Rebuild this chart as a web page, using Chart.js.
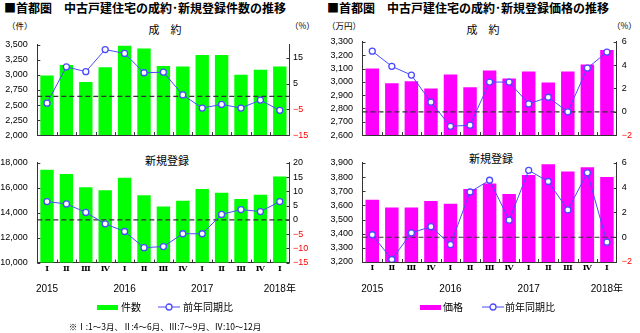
<!DOCTYPE html>
<html>
<head>
<meta charset="utf-8">
<script src="https://cdn.jsdelivr.net/npm/chart.js@4.4.1/dist/chart.umd.min.js"></script>
<style>
    body { margin: 0; width: 640px; height: 333px; position: relative; background: #fff; overflow: hidden; font-family: 'Noto Sans CJK JP', sans-serif; color: #000; }
    canvas { position: absolute; }
    .t { position: absolute; white-space: nowrap; line-height: 1; }
    .title { font-size: 12px; font-weight: bold; top: 2px; }
    .sub { font-size: 11px; transform: translateX(-50%); }
    .unit { font-size: 8.5px; top: 20.5px; }
    .leg { font-size: 10px; top: 302px; }
    .note { font-size: 8.5px; top: 321.5px; left: 165px; transform: translateX(-50%); }
    .sw { position: absolute; top: 304.5px; width: 21px; height: 5px; }
    svg { position: absolute; top: 303px; }
</style>
</head>
<body>
<div class="t title" style="left:4px">■首都圏　中古戸建住宅の成約･新規登録件数の推移</div>
<div class="t title" style="left:327px">■首都圏　中古戸建住宅の成約･新規登録価格の推移</div>

<div class="t sub" style="left:165px;top:23.5px">成　約</div>
<div class="t sub" style="left:167px;top:155px">新規登録</div>
<div class="t sub" style="left:483px;top:23.5px">成　約</div>
<div class="t sub" style="left:491px;top:152.5px">新規登録</div>

<div class="t unit" style="left:7px">（件）</div>
<div class="t unit" style="left:290px">（%）</div>
<div class="t unit" style="left:327px">（万円）</div>
<div class="t unit" style="left:612px">（%）</div>

<canvas id="countContract" width="320" height="120" style="left:0;top:30px"></canvas>
<canvas id="countListing" width="320" height="150" style="left:0;top:148px"></canvas>
<canvas id="priceContract" width="320" height="123" style="left:320px;top:27px"></canvas>
<canvas id="priceListing" width="320" height="150" style="left:320px;top:148px"></canvas>

<!-- legends -->
<div class="sw" style="left:97px;background:#00ff00"></div>
<div class="t leg" style="left:121px">件数</div>
<svg width="24" height="8" style="left:157px"><line x1="1" y1="4" x2="23" y2="4" stroke="#4a4aff" stroke-width="1"/><circle cx="12" cy="4" r="3" fill="#fff" stroke="#4a4aff" stroke-width="1.3"/></svg>
<div class="t leg" style="left:183px">前年同期比</div>

<div class="sw" style="left:420px;background:#ff00ff"></div>
<div class="t leg" style="left:443px">価格</div>
<svg width="24" height="8" style="left:481px"><line x1="1" y1="4" x2="23" y2="4" stroke="#4a4aff" stroke-width="1"/><circle cx="12" cy="4" r="3" fill="#fff" stroke="#4a4aff" stroke-width="1.3"/></svg>
<div class="t leg" style="left:505px">前年同期比</div>

<div class="t note">※Ⅰ:1～3月、Ⅱ:4～6月、Ⅲ:7～9月、Ⅳ:10～12月</div>

<script>
// Quarter / year labels
const quarters = ['Ⅰ', 'Ⅱ', 'Ⅲ', 'Ⅳ', 'Ⅰ', 'Ⅱ', 'Ⅲ', 'Ⅳ', 'Ⅰ', 'Ⅱ', 'Ⅲ', 'Ⅳ', 'Ⅰ'];
const years = ['2015', '', '', '', '2016', '', '', '', '2017', '', '', '', '2018年'];

// 件数 (counts) and YoY %
const contractCount = [2990, 3165, 2885, 3130, 3485, 3440, 3150, 3140, 3330, 3330, 3005, 3085, 3140];
const contractCountYoY = [-2.6, 11.5, 9.6, 18.2, 16.7, 9.2, 9.4, 0.6, -4.5, -3.1, -4.5, -1.4, -5.4];
const listingCount = [17450, 17100, 16050, 15800, 16800, 15400, 14500, 14950, 15900, 15600, 15100, 15450, 16900];
const listingCountYoY = [6.4, 5.6, 2.6, -1.4, -4.1, -9.8, -9.4, -4.9, -4.9, 1.9, 3.6, 2.9, 6.4];

// 価格 (prices, 万円) and YoY %
const contractPrice = [3100, 2990, 3005, 2950, 3055, 2960, 3085, 3025, 3078, 2995, 3078, 3130, 3240];
const contractPriceYoY = [5.2, 3.9, 3.15, 0.83, -1.25, -1.15, 2.55, 2.55, 0.68, 1.25, 0, 3.75, 5.13];
const listingPrice = [3640, 3585, 3585, 3630, 3612, 3715, 3755, 3680, 3815, 3890, 3840, 3870, 3800];
const listingPriceYoY = [0.2, -1.8, 0.35, 0.85, -0.6, 3.65, 4.6, 1.38, 5.4, 4.5, 2.2, 5.2, -0.4];

const lineBlue = '#4a4aff';
const axisColor = '#333';
const numFont = { family: "'Liberation Sans', Arial, 'Noto Sans CJK JP'", size: 9 };

// Dashed zero line + inward tick marks
const framePlugin = {
    id: 'frame',
    afterDatasetDraw(chart, args) {
        if (args.index !== 1) return;
        const { ctx, chartArea: a, scales } = chart;
        const py = scales.y2.getPixelForValue(0);
        ctx.save();
        ctx.strokeStyle = '#333';
        ctx.lineWidth = 1.2;
        ctx.setLineDash([5, 3]);
        ctx.beginPath();
        ctx.moveTo(a.left, py);
        ctx.lineTo(a.right, py);
        ctx.stroke();
        ctx.restore();
    },
    afterDraw(chart) {
        const { ctx, chartArea: a, scales } = chart;
        ctx.save();
        ctx.strokeStyle = axisColor;
        ctx.lineWidth = 1;
        ctx.beginPath();
        scales.y.ticks.forEach((t, i) => {
            const py = Math.round(scales.y.getPixelForTick(i)) + 0.5;
            ctx.moveTo(a.left, py);
            ctx.lineTo(a.left + 3, py);
        });
        scales.y2.ticks.forEach((t, i) => {
            const py = Math.round(scales.y2.getPixelForTick(i)) + 0.5;
            ctx.moveTo(a.right, py);
            ctx.lineTo(a.right - 3, py);
        });
        const step = scales.x.getPixelForValue(1) - scales.x.getPixelForValue(0);
        for (let i = 0; i < quarters.length - 1; i++) {
            const bx = Math.round(scales.x.getPixelForValue(i) + step / 2) + 0.5;
            ctx.moveTo(bx, a.bottom);
            ctx.lineTo(bx, a.bottom - 3);
        }
        ctx.stroke();
        ctx.restore();
    }
};

function pctLabel(v) {
    return v < 0 ? '\u2212' + Math.abs(v) : String(v);
}

function makeChart(id, o) {
    const scales = {
        x: {
            offset: true,
            weight: 1,
            grid: { display: false, drawTicks: false },
            border: { color: axisColor },
            ticks: {
                display: o.showX,
                padding: 1.5,
                autoSkip: false,
                maxRotation: 0,
                color: '#000',
                font: { family: "'DejaVu Serif', serif", size: 8, weight: 'bold' }
            },
            afterFit: s => { s.height = o.showX ? 16 : 0; }
        },
        y: {
            position: 'left',
            min: o.min, max: o.max,
            grid: { display: false, drawTicks: false },
            border: { color: axisColor },
            ticks: {
                stepSize: o.step,
                padding: 9.5,
                color: '#000',
                font: numFont,
                callback: v => v.toLocaleString('en-US')
            },
            afterFit: s => { s.width = o.leftW; }
        },
        y2: {
            position: 'right',
            min: o.pMin, max: o.pMax,
            grid: { display: false, drawTicks: false },
            border: { color: axisColor },
            ticks: {
                stepSize: o.pStep,
                padding: o.rightPad,
                font: numFont,
                color: c => c.tick.value < 0 ? '#ff0000' : '#000',
                callback: pctLabel
            },
            afterFit: s => { s.width = o.rightW; }
        }
    };
    if (o.showX) {
        scales.xYear = {
            type: 'category',
            labels: years,
            position: 'bottom',
            weight: 2,
            offset: true,
            grid: { display: false, drawTicks: false },
            border: { display: false },
            ticks: {
                padding: 5,
                autoSkip: false,
                maxRotation: 0,
                color: '#000',
                font: { family: "'Liberation Sans', Arial, 'Noto Sans CJK JP'", size: 10 }
            },
            afterFit: s => { s.height = 14; }
        };
    }

    new Chart(document.getElementById(id), {
        type: 'bar',
        data: {
            labels: quarters,
            datasets: [
                {
                    type: 'line',
                    data: o.yoy,
                    yAxisID: 'y2',
                    order: 0,
                    borderColor: lineBlue,
                    borderWidth: 1,
                    pointRadius: 3,
                    pointBackgroundColor: '#fff',
                    pointBorderColor: lineBlue,
                    pointBorderWidth: 1.3
                },
                {
                    type: 'bar',
                    data: o.values,
                    yAxisID: 'y',
                    order: 1,
                    backgroundColor: o.color,
                    barPercentage: 0.69,
                    categoryPercentage: 1
                }
            ]
        },
        options: {
            responsive: false,
            animation: false,
            events: [],
            layout: { padding: { top: o.padTop, bottom: o.padBottom, left: 0, right: 0 } },
            plugins: { legend: { display: false }, tooltip: { enabled: false } },
            scales: scales
        },
        plugins: [framePlugin]
    });
}

makeChart('countContract', {
    values: contractCount, yoy: contractCountYoY, color: '#00ff00',
    min: 2000, max: 3500, step: 250, pMin: -15, pMax: 20, pStep: 5,
    leftW: 37.3, rightW: 30.5, rightPad: 3.5, padTop: 9.3, padBottom: 8.3, showX: false
});
makeChart('countListing', {
    values: listingCount, yoy: listingCountYoY, color: '#00ff00',
    min: 10000, max: 18000, step: 2000, pMin: -15, pMax: 20, pStep: 5,
    leftW: 37.3, rightW: 30.5, rightPad: 3.5, padTop: 8, padBottom: 5.5, showX: true
});
makeChart('priceContract', {
    values: contractPrice, yoy: contractPriceYoY, color: '#ff00ff',
    min: 2600, max: 3300, step: 100, pMin: -2, pMax: 6, pStep: 1,
    leftW: 42.5, rightW: 23.3, rightPad: 5, padTop: 9, padBottom: 7.3, showX: false
});
makeChart('priceListing', {
    values: listingPrice, yoy: listingPriceYoY, color: '#ff00ff',
    min: 3200, max: 3900, step: 100, pMin: -2, pMax: 6, pStep: 1,
    leftW: 42.5, rightW: 23.3, rightPad: 5, padTop: 10.3, padBottom: 6, showX: true
});
</script>
</body>
</html>
